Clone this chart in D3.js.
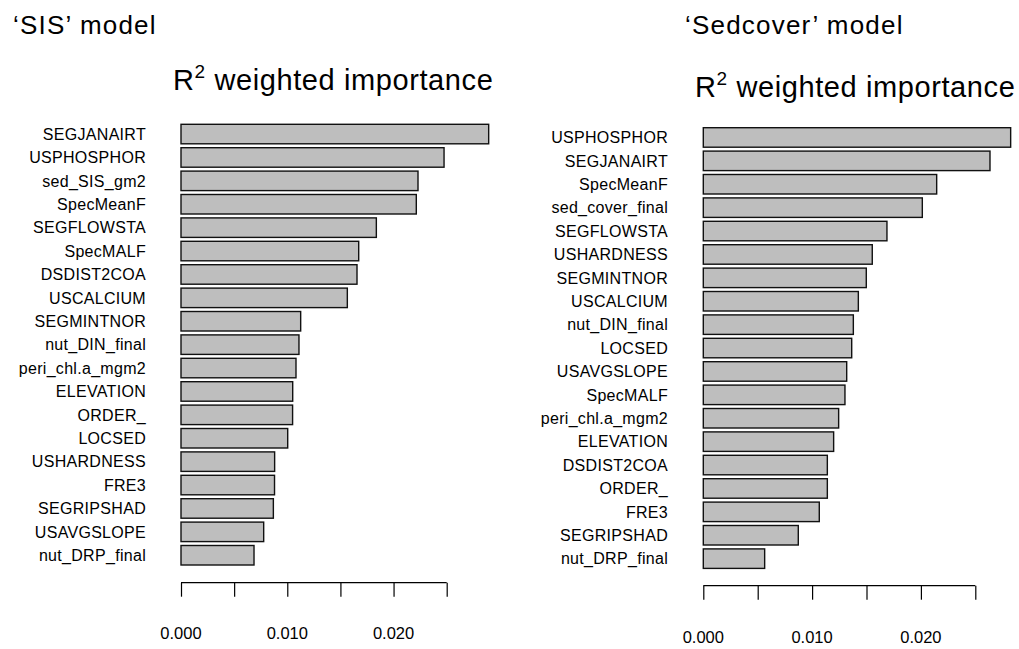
<!DOCTYPE html>
<html>
<head>
<meta charset="utf-8">
<script src="https://cdn.jsdelivr.net/npm/d3@7"></script>
<style>
  body { margin: 0; background: #fff; }
  svg { display: block; font-family: "Liberation Sans", Arial, Helvetica, sans-serif; }
</style>
</head>
<body>
<svg id="chart" width="1019" height="649"></svg>
<script>
// variable importance (top to bottom)
const sisVars = ['SEGJANAIRT', 'USPHOSPHOR', 'sed_SIS_gm2', 'SpecMeanF', 'SEGFLOWSTA', 'SpecMALF',
  'DSDIST2COA', 'USCALCIUM', 'SEGMINTNOR', 'nut_DIN_final', 'peri_chl.a_mgm2', 'ELEVATION',
  'ORDER_', 'LOCSED', 'USHARDNESS', 'FRE3', 'SEGRIPSHAD', 'USAVGSLOPE', 'nut_DRP_final'];
const sisValues = [0.02895, 0.02475, 0.0223, 0.02214, 0.01838, 0.01672, 0.01656, 0.01565, 0.01126,
  0.0111, 0.01082, 0.01051, 0.0105, 0.01004, 0.00881, 0.0088, 0.00869, 0.00778, 0.00687];

const sedVars = ['USPHOSPHOR', 'SEGJANAIRT', 'SpecMeanF', 'sed_cover_final', 'SEGFLOWSTA', 'USHARDNESS',
  'SEGMINTNOR', 'USCALCIUM', 'nut_DIN_final', 'LOCSED', 'USAVGSLOPE', 'SpecMALF', 'peri_chl.a_mgm2',
  'ELEVATION', 'DSDIST2COA', 'ORDER_', 'FRE3', 'SEGRIPSHAD', 'nut_DRP_final'];
const sedValues = [0.02825, 0.02635, 0.02145, 0.02013, 0.01688, 0.01553, 0.01498, 0.01425, 0.01379,
  0.01364, 0.01318, 0.01302, 0.01244, 0.01198, 0.0114, 0.0114, 0.01066, 0.00873, 0.00564];

const tickValues = [0, 0.005, 0.01, 0.015, 0.02, 0.025];
const tickLabels = ['0.000', '', '0.010', '', '0.020', ''];

const svg = d3.select('#chart');

const panels = [
  {
    name: '\u2018SIS\u2019 model', vars: sisVars, values: sisValues,
    nameX: 13, nameY: 34, titleX: 173, titleY: 90,
    x0: 181, x1: 446.7, yTop: 122.35, labelX: 146, axisY: 582.7, tickLabelY: 639
  },
  {
    name: '\u2018Sedcover\u2019 model', vars: sedVars, values: sedValues,
    nameX: 685, nameY: 34, titleX: 695, titleY: 97,
    x0: 703.3, x1: 975.3, yTop: 125.75, labelX: 668, axisY: 585.7, tickLabelY: 643
  }
];

panels.forEach(p => {
  const g = svg.append('g');
  const step = 23.4;

  const x = d3.scaleLinear().domain([0, 0.025]).range([p.x0, p.x1]);
  const y = d3.scaleBand()
    .domain(p.vars)
    .range([p.yTop, p.yTop + step * p.vars.length])
    .paddingInner(1 / 6)
    .paddingOuter(1 / 12);

  g.append('text')
    .attr('x', p.nameX).attr('y', p.nameY)
    .attr('font-size', 26)
    .attr('letter-spacing', 1.2)
    .attr('fill', '#000')
    .text(p.name);

  const title = g.append('text')
    .attr('x', p.titleX).attr('y', p.titleY)
    .attr('font-size', 29)
    .attr('letter-spacing', 0.6)
    .attr('fill', '#000');
  title.append('tspan').text('R');
  title.append('tspan').attr('font-size', 19).attr('dy', -12).text('2');
  title.append('tspan').attr('dy', 12).text(' weighted importance');

  g.selectAll('rect.bar')
    .data(p.vars.map((v, i) => ({ v, val: p.values[i] })))
    .join('rect')
    .attr('class', 'bar')
    .attr('x', x(0))
    .attr('y', d => y(d.v))
    .attr('width', d => x(d.val) - x(0))
    .attr('height', y.bandwidth())
    .attr('fill', '#bebebe')
    .attr('stroke', '#111')
    .attr('stroke-width', 1.4);

  g.selectAll('text.lab')
    .data(p.vars)
    .join('text')
    .attr('class', 'lab')
    .attr('x', p.labelX)
    .attr('y', d => y(d) + y.bandwidth() / 2)
    .attr('dy', '0.36em')
    .attr('text-anchor', 'end')
    .attr('font-size', 16)
    .attr('letter-spacing', 0.3)
    .attr('fill', '#000')
    .text(d => d);

  const axis = d3.axisBottom(x)
    .tickValues(tickValues)
    .tickSize(14)
    .tickPadding(0)
    .tickFormat('');
  const ag = g.append('g')
    .attr('transform', `translate(0,${p.axisY})`)
    .call(axis);
  ag.select('.domain').attr('d', `M${x(0)},0H${x(0.025)}`).attr('stroke', '#000').attr('stroke-width', 1.2);
  ag.selectAll('.tick line').attr('stroke', '#000').attr('stroke-width', 1.2);

  g.selectAll('text.tl')
    .data(tickValues.map((t, i) => ({ t, l: tickLabels[i] })).filter(d => d.l))
    .join('text')
    .attr('class', 'tl')
    .attr('x', d => x(d.t))
    .attr('y', p.tickLabelY)
    .attr('text-anchor', 'middle')
    .attr('font-size', 16.5)
    .attr('fill', '#000')
    .text(d => d.l);
});
</script>
</body>
</html>
